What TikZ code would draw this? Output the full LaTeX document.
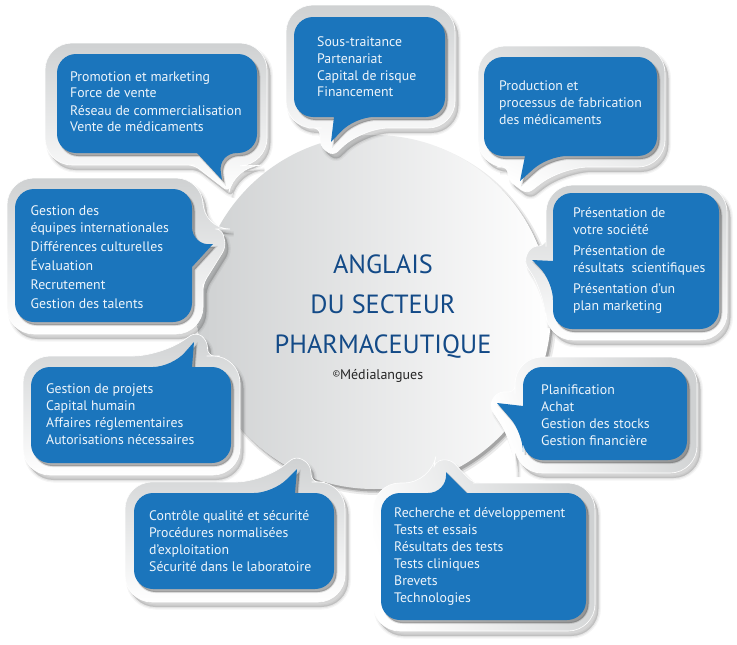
\documentclass[tikz,border=0pt]{standalone}
\usepackage{fontspec}
\setmainfont{PT Sans}
\definecolor{bubbleblue}{HTML}{1B75BC}
\definecolor{titleblue}{HTML}{134A87}
\definecolor{halogrey}{HTML}{CFD1D2}
\definecolor{textwhite}{HTML}{EEF5FB}
\tikzset{
  outerr/.style={rounded corners=27pt},
  innerr/.style={rounded corners=19pt},
  tailr/.style={rounded corners=6.5pt},
  tipr/.style={sharp corners},
  halo/.style={left color=halogrey,right color=white,outerr},
  bubbletext/.style={anchor=base west,inner sep=0pt,text=textwhite,font=\fontsize{13.8}{17}\selectfont},
}
\newcommand{\Bub}[3]{%
  \begin{scope}[shift={(3.5,5)},outerr]
    \fill[black,opacity=.04,draw=black,line width=5pt] #2 -- cycle;
    \fill[black,opacity=.06,draw=black,line width=2.5pt] #2 -- cycle;
    \fill[black,opacity=.08] #2 -- cycle;
  \end{scope}
  \shade[halo,shading angle=#1,draw=white,line width=.6pt] #2 -- cycle;
  \begin{scope}[shift={(2.5,3)},innerr]
    \fill[black,opacity=.10,draw=black,line width=2pt] #3 -- cycle;
    \fill[black,opacity=.22] #3 -- cycle;
  \end{scope}
  \fill[bubbleblue,innerr] #3 -- cycle;
}
\newcommand{\Lines}[1]{\begin{tabular}[t]{@{}l@{}}#1\end{tabular}}
\begin{document}
\begin{tikzpicture}[x=1pt,y=-1pt]
\useasboundingbox (0,0) rectangle (737,645);
% hub
\fill[black,opacity=.08] (377.5,316) circle (179);
\fill[black,opacity=.12] (377,315.5) circle (177.5);
\fill[black,opacity=.2] (376.5,315) circle (176.5);
\node[circle,minimum size=354pt,inner sep=0pt,left color=halogrey,right color=white] (hub) at (374,312) {};
\node[inner sep=0pt,text=titleblue,align=center,font=\fontsize{26.3}{40}\selectfont,anchor=base] (title) at (383,353) {ANGLAIS\\DU SECTEUR\\PHARMACEUTIQUE};
\node[inner sep=0pt,text=black!85,font=\fontsize{14}{14}\selectfont,anchor=base] (copy) at (378,379) {\raisebox{2.5pt}{\fontsize{9}{8}\selectfont ©}Médialangues};

% 1 promotion
\Bub{0}{(150,43) -- (267,43) -- (267,165) -- (234,166) [tailr] -- (229,192) -- (194,165) -- (188,165) [outerr] -- (45,165) -- (45,43)}
{(150,54) -- (257,54) -- (257,153) -- (218,153) [tipr] -- (222,180) -- (197,153) -- (190,153) [innerr] -- (57,153) -- (57,54)}
\node[bubbletext] (n1) at (70,81) {\Lines{Promotion et marketing\\Force de vente\\Réseau de commercialisation\\Vente de médicaments}};

% 2 gestion
\Bub{0}{(100,178) -- (203,178) -- (203,229) [tailr] -- (222,229) -- (226,247) -- (203,284) -- (203,290) [outerr] -- (203,334) -- (7,334) -- (7,178)}
{(100,189) -- (192,189) -- (192,246) [tipr] -- (213,244) -- (192,267) -- (192,272) [innerr] -- (192,322) -- (15,322) -- (15,189)}
\node[bubbletext] (n2) at (30.5,215) {\Lines{Gestion des\\équipes internationales\\[2pt]Différences culturelles\\[2pt]Évaluation\\[2pt]Recrutement\\[2pt]Gestion des talents}};

% 3 sous-traitance
\Bub{0}{(370,5) -- (455,5) -- (455,128) -- (362,128) [tailr] -- (333,156) -- (320,146) -- (320,128) -- (315,128) [outerr] -- (286,128) -- (286,5)}
{(370,17) -- (445,17) -- (445,117) -- (355,117) [tipr] -- (331,142) -- (334,117) -- (330,117) [innerr] -- (294,117) -- (294,17)}
\node[bubbletext] (n3) at (317,46) {\Lines{Sous-traitance\\Partenariat\\Capital de risque\\Financement}};

% 4 production
\Bub{-25}{(570,46) -- (665,46) -- (665,167) -- (562,167) [tailr] -- (527,194) -- (508,180) -- (508,167) -- (503,167) [outerr] -- (478,167) -- (478,46)}
{(570,57) -- (657,57) -- (657,156) -- (548,156) [tipr] -- (520,181) -- (525,156) -- (520,156) [innerr] -- (484,156) -- (484,57)}
\node[bubbletext] (n4) at (499,90) {\Lines{Production et\\processus de fabrication\\des médicaments}};

% 5 presentation
\Bub{0}{(640,185) -- (727,185) -- (727,340) -- (546,340) -- (546,296) [tailr] -- (524,262) -- (530,247) -- (546,245) -- (546,240) [outerr] -- (546,185)}
{(640,193) -- (719,193) -- (719,329) -- (553,329) -- (553,281) [tipr] -- (532,260) -- (553,261) -- (553,255) [innerr] -- (553,193)}
\node[bubbletext] (n5) at (573,217) {\Lines{Présentation de\\votre société\\[4pt]Présentation de\\résultats\ \ scientifiques\\[4pt]Présentation d'un\\plan marketing}};

% 6 planification
\Bub{-70}{(600,357) -- (697,357) -- (697,473) -- (515,473) -- (515,445) [tailr] -- (489,406) -- (497,392) -- (515,392) -- (515,387) [outerr] -- (515,357)}
{(600,367) -- (687,367) -- (687,460) -- (523,460) -- (523,433) [tipr] -- (497,403) -- (523,406) -- (523,401) [innerr] -- (523,367)}
\node[bubbletext] (n6) at (541,394) {\Lines{Planification\\Achat\\Gestion des stocks\\Gestion financière}};

% 7 recherche
\Bub{-70}{(500,483) -- (595,483) -- (595,631) -- (373,631) -- (373,483) -- (431,483) [tailr] -- (435,461) -- (450,459) -- (473,483) -- (480,483) [outerr]}
{(500,493) -- (586,493) -- (586,620) -- (381,620) -- (381,493) -- (447,493) [tipr] -- (446,472) -- (467,493) -- (472,493) [innerr]}
\node[bubbletext] (n7) at (394,517) {\Lines{Recherche et développement\\Tests et essais\\Résultats des tests\\Tests cliniques\\Brevets\\Technologies}};

% 8 controle
\Bub{0}{(200,482) -- (263,482) [tailr] -- (296,456) -- (310,464) -- (312,482) -- (318,482) [outerr] -- (345,482) -- (345,602) -- (125,602) -- (125,482)}
{(200,493) -- (273,493) [tipr] -- (297,469) -- (295,493) -- (300,493) [innerr] -- (334,493) -- (334,589) -- (134,589) -- (134,493)}
\node[bubbletext] (n8) at (149,520) {\Lines{Contrôle qualité et sécurité\\Procédures normalisées\\d’exploitation\\Sécurité dans le laboratoire}};

% 9 projets
\Bub{0}{(100,356) -- (160,356) [tailr] -- (196,332) -- (207,340) -- (208,356) -- (213,356) [outerr] -- (240,356) -- (240,475) -- (23,475) -- (23,356)}
{(100,367) -- (172,367) [tipr] -- (194,342) -- (192,367) -- (197,367) [innerr] -- (231,367) -- (231,463) -- (31,463) -- (31,367)}
\node[bubbletext] (n9) at (46,393) {\Lines{Gestion de projets\\Capital humain\\Affaires réglementaires\\Autorisations nécessaires}};
\end{tikzpicture}
\end{document}
